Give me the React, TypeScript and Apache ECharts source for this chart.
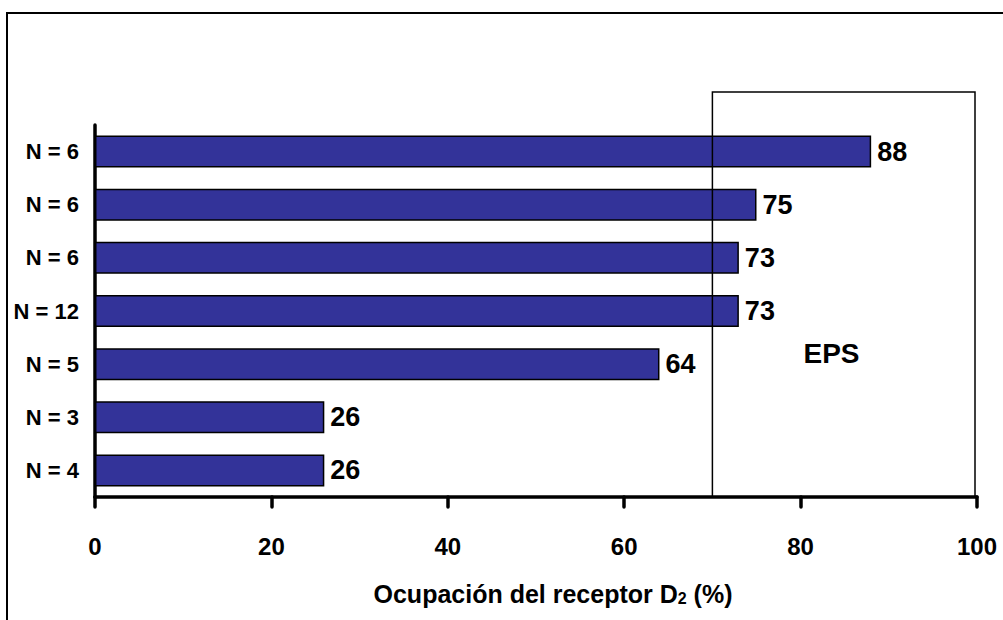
import React, { useEffect, useRef } from "react";
import * as echarts from "echarts";

const categories = ["N = 4", "N = 3", "N = 5", "N = 12", "N = 6", "N = 6", "N = 6"];
const values = [26, 26, 64, 73, 73, 75, 88];
const xTicks = [0, 20, 40, 60, 80, 100];
const epsRange = [70, 100];
const epsLabel = "EPS";

const FONT = "'Liberation Sans', Arial, sans-serif";

export default function App() {
  const ref = useRef<HTMLDivElement>(null);
  useEffect(() => {
    document.body.style.margin = "0";
    const chart = echarts.init(ref.current!, null, { renderer: "svg" });
    chart.setOption({
      animation: false,
      backgroundColor: "#ffffff",
      grid: { left: 95, right: 26, top: 125, bottom: 123, containLabel: false, outerBoundsMode: "none" },
      xAxis: {
        type: "value",
        min: xTicks[0],
        max: xTicks[xTicks.length - 1],
        interval: 20,
        splitLine: { show: false },
        axisLine: { show: true, lineStyle: { color: "#000", width: 3.5, cap: "round" } },
        axisTick: { show: true, length: 10, lineStyle: { color: "#000", width: 3.5, cap: "round" } },
        axisLabel: { margin: 37, color: "#000", fontFamily: FONT, fontWeight: "bold", fontSize: 24 },
        name: "Ocupación del receptor D{sub|2} (%)",
        nameLocation: "middle",
        nameGap: 84,
        nameTextStyle: {
          color: "#000",
          fontFamily: FONT,
          fontWeight: "bold",
          fontSize: 25,
          padding: [0, 0, 0, 34],
          rich: {
            sub: { fontFamily: FONT, fontWeight: "bold", fontSize: 16, color: "#000", padding: [9, 0, 0, 0] },
          },
        },
      },
      yAxis: {
        type: "category",
        data: categories,
        axisLine: { show: true, lineStyle: { color: "#000", width: 3.5, cap: "round" } },
        axisTick: { show: false },
        axisLabel: { margin: 16, color: "#000", fontFamily: FONT, fontWeight: "bold", fontSize: 22 },
        splitLine: { show: false },
      },
      series: [
        {
          type: "bar",
          data: values,
          barWidth: 32,
          itemStyle: { color: "#333399", borderColor: "#000", borderWidth: 1.5 },
          label: {
            show: true,
            position: "right",
            distance: 6,
            color: "#000",
            fontFamily: FONT,
            fontWeight: "bold",
            fontSize: 27,
          },
        },
      ],
    });
    const x0 = chart.convertToPixel({ xAxisIndex: 0 }, epsRange[0]) as number;
    const x1 = chart.convertToPixel({ xAxisIndex: 0 }, epsRange[1]) as number;
    const xt = chart.convertToPixel({ xAxisIndex: 0 }, 83.5) as number;
    const axisY = 497;
    chart.setOption({
      graphic: [
        {
          type: "rect",
          z: 100,
          shape: { x: x0, y: 92, width: x1 - x0 - 2, height: axisY - 92 },
          style: { fill: "none", stroke: "#000", lineWidth: 1.5 },
        },
        {
          type: "text",
          z: 100,
          x: xt,
          y: 353,
          style: {
            text: epsLabel,
            fill: "#000",
            font: "bold 28px 'Liberation Sans', Arial, sans-serif",
            align: "center",
            verticalAlign: "middle",
          },
        },
        {
          type: "rect",
          z: 100,
          shape: { x: 7, y: 13, width: 1100, height: 700 },
          style: { fill: "none", stroke: "#000", lineWidth: 2 },
        },
      ],
    });
    return () => chart.dispose();
  }, []);
  return <div ref={ref} style={{ width: 1003, height: 620 }} />;
}
